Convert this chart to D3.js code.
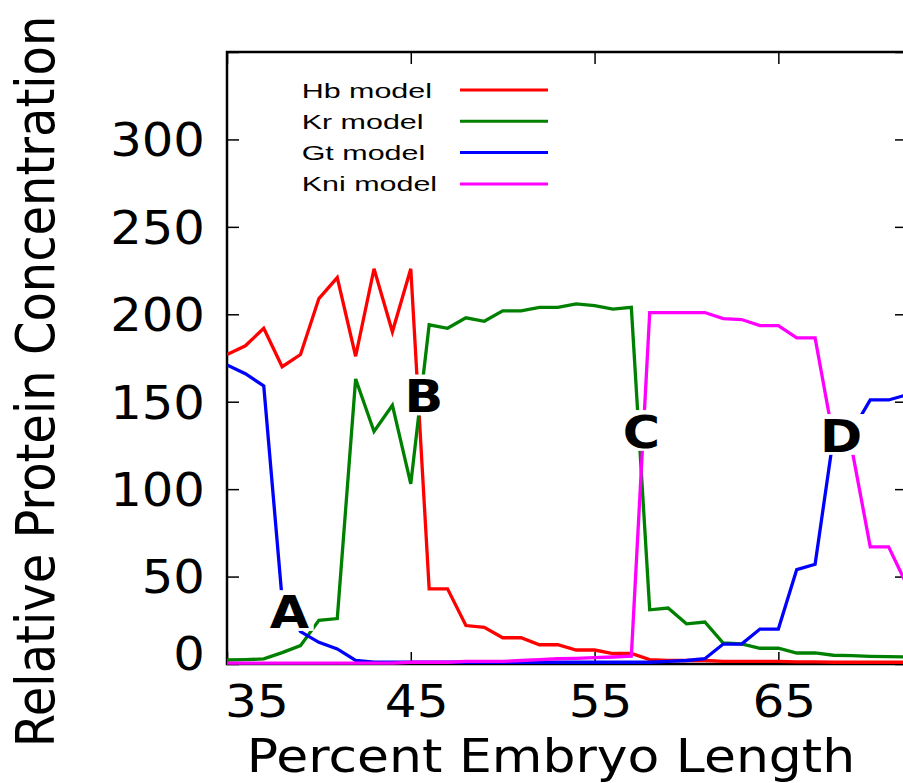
<!DOCTYPE html>
<meta charset="utf-8">
<style>
  body { margin: 0; background: #fff; }
  svg { display: block; background: #fff; }
  .tick line { stroke: #000; stroke-width: 1.5px; }
  .series { fill: none; stroke-width: 3.3px; stroke-linejoin: miter; }
  .frame { fill: none; stroke: #000; stroke-width: 2.5px; }
</style>
<body>
<div id="graph-container"></div>
<script src="https://d3js.org/d3.v7.min.js"></script>
<script>
  // percent embryo length, one point per percent
  var positions = d3.range(35, 73);

  var hb  = [177, 182, 192, 170, 177, 209, 221, 176, 226, 190, 226, 43, 43, 22, 21, 15, 15, 11, 11, 8,
             8, 6, 6, 2.5, 2, 2, 2, 1.5, 1.5, 1.5, 1.5, 1.2, 1.2, 1, 1, 1, 1, 1];
  var kr  = [2.3, 2.5, 2.9, 6.5, 10.5, 25, 26, 163, 133, 148, 103, 194, 192, 198, 196, 202, 202, 204, 204, 206,
             205, 203, 204, 31, 32, 23, 24, 12, 11.5, 9, 9, 6.3, 6.3, 5, 4.8, 4.4, 4.2, 4];
  var gt  = [171, 166, 159, 37, 18.5, 12.4, 8.6, 2, 1, 1, 1, 1, 1, 1, 1, 1, 1, 1, 1, 1,
             1, 1, 1, 1, 1.5, 2, 3, 11.4, 11.4, 20, 20, 54, 57, 130, 133, 151, 151, 154];
  var kni = [0.5, 0.5, 0.5, 0.5, 0.5, 0.5, 0.5, 0.5, 0.5, 0.5, 1, 1, 1, 1.5, 1.5, 1.5, 2, 2.5, 3, 3.2,
             3.6, 4, 4.5, 201, 201, 201, 201, 197.5, 197, 193.5, 193.5, 186.5, 186.5, 129, 123, 67, 67, 45];

  var seriesNames  = ["Hb model", "Kr model", "Gt model", "Kni model"];
  var seriesColors = ["#ff0000", "#008000", "#0000ff", "#ff00ff"];
  var seriesValues = [hb, kr, gt, kni];

  var xTicks = [35, 45, 55, 65];
  var yTicks = [0, 50, 100, 150, 200, 250, 300];

  // letter annotations, in data units
  var marks = [
    {text: "A", x: 38.40, y: 30.0},
    {text: "B", x: 45.71, y: 153.3},
    {text: "C", x: 57.55, y: 133.0},
    {text: "D", x: 68.41, y: 130.7}
  ];

  var W = 903, H = 783;
  var m = {left: 227, right: 907, top: 52, bottom: 664};

  var x = d3.scaleLinear().domain([35, 72]).range([m.left, m.right]);
  var y = d3.scaleLinear().domain([0, 350]).range([m.bottom, m.top]);

  var svg = d3.select("#graph-container").append("svg")
      .attr("width", W)
      .attr("height", H);

  // stretch text horizontally (the original picture is a bit wide)
  function stretch(sel, k) {
    sel.each(function() {
      var len = this.getComputedTextLength();
      d3.select(this).attr("textLength", len * k).attr("lengthAdjust", "spacingAndGlyphs");
    });
  }

  // inward ticks on all four sides
  svg.append("g").attr("transform", "translate(" + m.left + ",0)")
      .call(d3.axisLeft(y).tickValues(d3.range(0, 351, 50)).tickSize(-12).tickFormat(""));
  svg.append("g").attr("transform", "translate(" + m.right + ",0)")
      .call(d3.axisRight(y).tickValues(d3.range(0, 351, 50)).tickSize(-12).tickFormat(""));
  svg.append("g").attr("transform", "translate(0," + m.bottom + ")")
      .call(d3.axisBottom(x).tickValues(xTicks).tickSize(-12).tickFormat(""));
  svg.append("g").attr("transform", "translate(0," + m.top + ")")
      .call(d3.axisTop(x).tickValues(xTicks).tickSize(-12).tickFormat(""));
  svg.selectAll(".domain").remove();

  svg.append("rect")
      .attr("class", "frame")
      .attr("x", m.left).attr("y", m.top)
      .attr("width", m.right - m.left).attr("height", m.bottom - m.top);

  // y tick labels
  svg.append("g").selectAll("text")
      .data(yTicks)
      .enter().append("text")
      .attr("x", 205)
      .attr("y", function(d) { return y(d) + 16.8 - (d === 0 ? 11 : 0); })
      .attr("text-anchor", "end")
      .style("font", "46px 'DejaVu Sans'")
      .text(String)
      .call(stretch, 1.08);

  // x tick labels
  svg.append("g").selectAll("text")
      .data(xTicks)
      .enter().append("text")
      .attr("x", function(d) { return x(d) + (d === 35 ? 30 : 6); })
      .attr("y", 716.7)
      .attr("text-anchor", "middle")
      .style("font", "44px 'DejaVu Sans'")
      .text(String)
      .call(stretch, 1.14);

  svg.append("text")
      .attr("x", 551)
      .attr("y", 771.7)
      .attr("text-anchor", "middle")
      .style("font", "46px 'DejaVu Sans'")
      .text("Percent Embryo Length")
      .call(stretch, 1.13);

  svg.append("text")
      .attr("transform", "translate(54,381.5) scale(1.13,1) rotate(-90)")
      .attr("text-anchor", "middle")
      .style("font", "48px 'DejaVu Sans'")
      .text("Relative Protein Concentration");

  // model curves
  var line = d3.line()
      .x(function(d, i) { return x(positions[i]); })
      .y(function(d) { return y(d); });

  svg.append("clipPath").attr("id", "plot-clip")
      .append("rect").attr("x", m.left).attr("y", m.top - 5)
      .attr("width", m.right - m.left).attr("height", m.bottom - m.top + 10);

  svg.append("g").attr("clip-path", "url(#plot-clip)")
      .selectAll("path")
      .data(seriesValues)
      .enter().append("path")
      .attr("class", "series")
      .attr("d", line)
      .style("stroke", function(d, i) { return seriesColors[i]; });

  // legend
  var legend = svg.append("g").selectAll("g")
      .data(seriesNames)
      .enter().append("g")
      .attr("transform", function(d, i) { return "translate(0," + (90 + i * 31.3) + ")"; });

  legend.append("text")
      .attr("x", 301.7)
      .attr("y", 7.5)
      .style("font", "21px 'Liberation Sans'")
      .text(String)
      .call(stretch, 1.45);

  legend.append("line")
      .attr("x1", 460).attr("x2", 548)
      .attr("y1", 0).attr("y2", 0)
      .style("stroke-width", "3px")
      .style("stroke", function(d, i) { return seriesColors[i]; });

  // letters with white boxes that break the curves
  var cap = 0.729 * 45;
  var mk = svg.append("g").selectAll("g")
      .data(marks)
      .enter().append("g");

  mk.append("rect").attr("fill", "#fff");

  mk.append("text")
      .attr("x", function(d) { return x(d.x); })
      .attr("y", function(d) { return y(d.y) + cap / 2; })
      .attr("text-anchor", "middle")
      .style("font", "bold 45px 'DejaVu Sans'")
      .text(function(d) { return d.text; })
      .call(stretch, 1.13);

  mk.each(function(d) {
    var w = d3.select(this).select("text").node().getComputedTextLength() * 1.13;
    d3.select(this).select("rect")
        .attr("x", x(d.x) - w / 2 - 2)
        .attr("y", y(d.y) - cap / 2 - 5)
        .attr("width", w + 4)
        .attr("height", cap + 8);
  });
</script>
</body>
